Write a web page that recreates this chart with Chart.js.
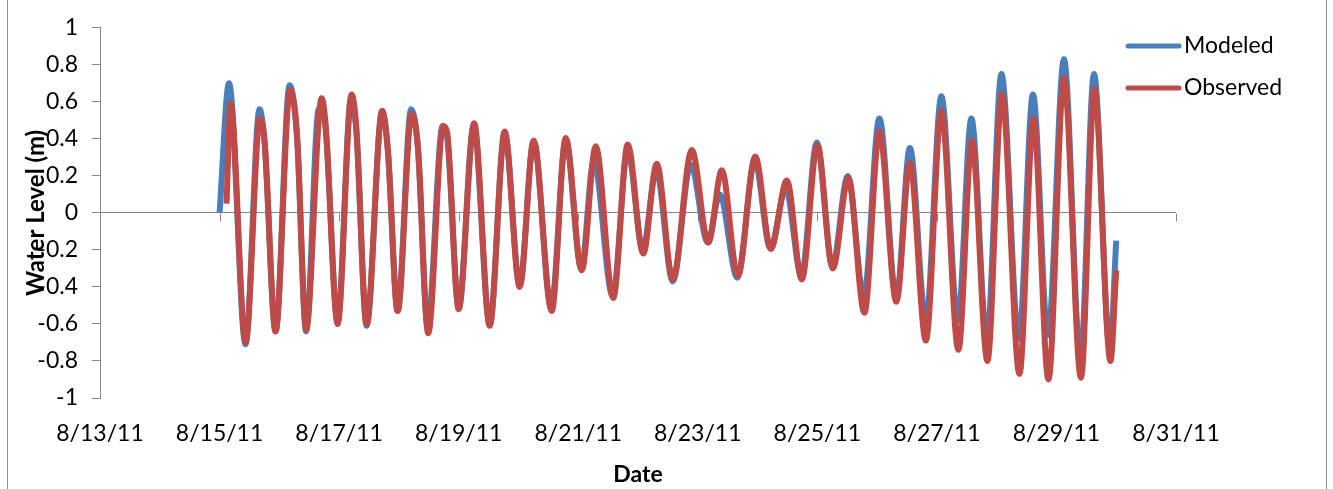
<!DOCTYPE html>
<html>
<head>
<meta charset="utf-8">
<script src="https://cdn.jsdelivr.net/npm/chart.js@4/dist/chart.umd.min.js"></script>
<style>
  html, body { margin: 0; padding: 0; background: #ffffff; }
  #wrap { position: relative; width: 1333px; height: 489px; overflow: hidden; }
  #frame { position: absolute; left: 7px; top: -1px; width: 1320px; height: 520px; border: 1px solid #8c8c8c; box-sizing: border-box; }
  #chart { position: absolute; left: 0; top: 0; }
</style>
</head>
<body>
<div id="wrap">
  <div id="frame"></div>
  <canvas id="chart" width="1333" height="489"></canvas>
</div>
<script>
// Time in days of August 2011 (e.g. 15.5 = 8/15/11 12:00); level in metres.
const modeledTime = [
  15.000, 15.159, 15.435, 15.669, 15.753, 15.937, 16.172, 16.297, 16.448, 16.660,
  16.774, 16.975, 17.201, 17.288, 17.460, 17.720, 17.817, 17.979, 18.205, 18.319,
  18.481, 18.732, 18.804, 19.000, 19.251, 19.519, 19.770, 20.021, 20.255, 20.548,
  20.791, 21.050, 21.259, 21.577, 21.828, 22.079, 22.305, 22.582, 22.883, 23.167,
  23.368, 23.661, 23.954, 24.213, 24.473, 24.732, 24.992, 25.251, 25.510, 25.778,
  26.038, 26.322, 26.548, 26.816, 27.075, 27.351, 27.577, 27.837, 28.080, 28.372,
  28.607, 28.858, 29.126, 29.402, 29.628, 29.895, 30.000
];
const modeledLevel = [
  0.00, 0.70, -0.71, 0.56, 0.38, -0.64, 0.69, 0.40, -0.64, 0.56,
  0.45, -0.58, 0.62, 0.44, -0.61, 0.55, 0.33, -0.53, 0.56, 0.35,
  -0.61, 0.47, 0.42, -0.51, 0.47, -0.60, 0.43, -0.39, 0.39, -0.51,
  0.39, -0.30, 0.28, -0.45, 0.34, -0.20, 0.23, -0.37, 0.26, -0.16,
  0.10, -0.35, 0.28, -0.19, 0.13, -0.34, 0.38, -0.29, 0.20, -0.45,
  0.51, -0.46, 0.35, -0.58, 0.63, -0.58, 0.51, -0.68, 0.75, -0.68,
  0.64, -0.66, 0.83, -0.79, 0.75, -0.74, -0.15
];
const observedTime = [
  15.117, 15.184, 15.435, 15.677, 15.753, 15.937, 16.180, 16.297, 16.448, 16.707,
  16.774, 16.975, 17.209, 17.288, 17.460, 17.720, 17.817, 17.979, 18.213, 18.319,
  18.490, 18.741, 18.804, 19.000, 19.259, 19.519, 19.770, 20.021, 20.255, 20.556,
  20.791, 21.059, 21.293, 21.586, 21.828, 22.088, 22.313, 22.582, 22.900, 23.176,
  23.402, 23.670, 23.962, 24.222, 24.490, 24.741, 25.000, 25.259, 25.519, 25.787,
  26.038, 26.322, 26.548, 26.816, 27.075, 27.360, 27.586, 27.845, 28.088, 28.381,
  28.615, 28.866, 29.126, 29.410, 29.636, 29.904, 30.000
];
const observedLevel = [
  0.05, 0.59, -0.70, 0.51, 0.39, -0.64, 0.665, 0.42, -0.63, 0.62,
  0.48, -0.60, 0.64, 0.46, -0.60, 0.55, 0.335, -0.53, 0.535, 0.35,
  -0.65, 0.47, 0.44, -0.52, 0.485, -0.61, 0.44, -0.40, 0.39, -0.53,
  0.405, -0.31, 0.36, -0.46, 0.37, -0.22, 0.265, -0.36, 0.34, -0.16,
  0.23, -0.34, 0.305, -0.195, 0.175, -0.36, 0.365, -0.30, 0.19, -0.54,
  0.44, -0.48, 0.27, -0.69, 0.55, -0.74, 0.39, -0.80, 0.64, -0.87,
  0.51, -0.90, 0.73, -0.89, 0.67, -0.80, -0.31
];
const dateTicks = [13, 15, 17, 19, 21, 23, 25, 27, 29, 31];
const seriesNames = ['Modeled', 'Observed'];
const seriesColors = ['#4a7ebb', '#be4b48'];

const AXIS_GRAY = '#868686';
const FONT = 'Lato, "Open Sans", sans-serif';

const toPoints = (t, v) => t.map((x, i) => ({ x: x, y: v[i] }));

// small tick marks hanging below the zero line at each date
const zeroLineTicks = {
  id: 'zeroLineTicks',
  beforeDatasetsDraw(chart) {
    const xs = chart.scales.x, ys = chart.scales.y, ctx = chart.ctx;
    const y0 = Math.round(ys.getPixelForValue(0)) + 0.5;
    ctx.save();
    ctx.strokeStyle = AXIS_GRAY;
    ctx.lineWidth = 1;
    ctx.beginPath();
    xs.ticks.forEach(t => {
      const px = Math.round(xs.getPixelForValue(t.value)) + 0.5;
      ctx.moveTo(px, y0);
      ctx.lineTo(px, y0 + 8);
    });
    ctx.stroke();
    ctx.restore();
  }
};

// legend at the upper right
const sideLegend = {
  id: 'sideLegend',
  afterDraw(chart) {
    const ctx = chart.ctx;
    ctx.save();
    chart.data.datasets.forEach((ds, i) => {
      const y = 46 + i * 42;
      ctx.strokeStyle = ds.borderColor;
      ctx.lineWidth = 5;
      ctx.lineCap = 'round';
      ctx.beginPath();
      ctx.moveTo(1128, y);
      ctx.lineTo(1179, y);
      ctx.stroke();
      ctx.fillStyle = '#000';
      ctx.font = '23px ' + FONT;
      ctx.textBaseline = 'middle';
      ctx.textAlign = 'left';
      ctx.fillText(ds.label, 1184, y);
    });
    ctx.restore();
  }
};

new Chart(document.getElementById('chart'), {
  type: 'line',
  data: {
    datasets: [
      {
        label: seriesNames[0],
        data: toPoints(modeledTime, modeledLevel),
        borderColor: seriesColors[0],
        backgroundColor: seriesColors[0],
        borderWidth: 6,
        pointRadius: 0,
        cubicInterpolationMode: 'monotone',
        order: 2
      },
      {
        label: seriesNames[1],
        data: toPoints(observedTime, observedLevel),
        borderColor: seriesColors[1],
        backgroundColor: seriesColors[1],
        borderWidth: 6,
        pointRadius: 0,
        cubicInterpolationMode: 'monotone',
        order: 1
      }
    ]
  },
  options: {
    responsive: false,
    animation: false,
    layout: { padding: { top: 26, right: 157, bottom: 0, left: 0 } },
    plugins: { legend: { display: false }, tooltip: { enabled: false } },
    scales: {
      x: {
        type: 'linear',
        min: 13,
        max: 31,
        afterBuildTicks(scale) { scale.ticks = dateTicks.map(v => ({ value: v })); },
        afterFit(scale) { scale.height = 91; },
        grid: { display: false, drawTicks: false },
        border: { display: false },
        ticks: {
          color: '#000',
          font: { family: FONT, size: 23 },
          padding: 22,
          maxRotation: 0,
          autoSkip: false,
          callback: v => '8/' + v + '/11'
        },
        title: {
          display: true,
          text: 'Date',
          color: '#000',
          font: { family: FONT, size: 23, weight: 'bold' },
          padding: { top: 0, bottom: 1 }
        }
      },
      y: {
        min: -1,
        max: 1,
        afterFit(scale) { scale.width = 100; },
        grid: {
          drawTicks: true,
          tickLength: 8,
          tickColor: AXIS_GRAY,
          color: ctx => (ctx.tick && ctx.tick.value === 0 ? AXIS_GRAY : 'rgba(0,0,0,0)')
        },
        border: { display: true, color: AXIS_GRAY, width: 1 },
        ticks: {
          stepSize: 0.2,
          color: '#000',
          padding: 14,
          font: { family: FONT, size: 23 },
          callback: v => String(Number(v.toFixed(1)))
        },
        title: {
          display: true,
          text: 'Water Level (m)',
          color: '#000',
          font: { family: FONT, size: 24, weight: 'bold' },
          padding: { top: 22, bottom: 0 }
        }
      }
    }
  },
  plugins: [zeroLineTicks, sideLegend]
});
</script>
</body>
</html>
